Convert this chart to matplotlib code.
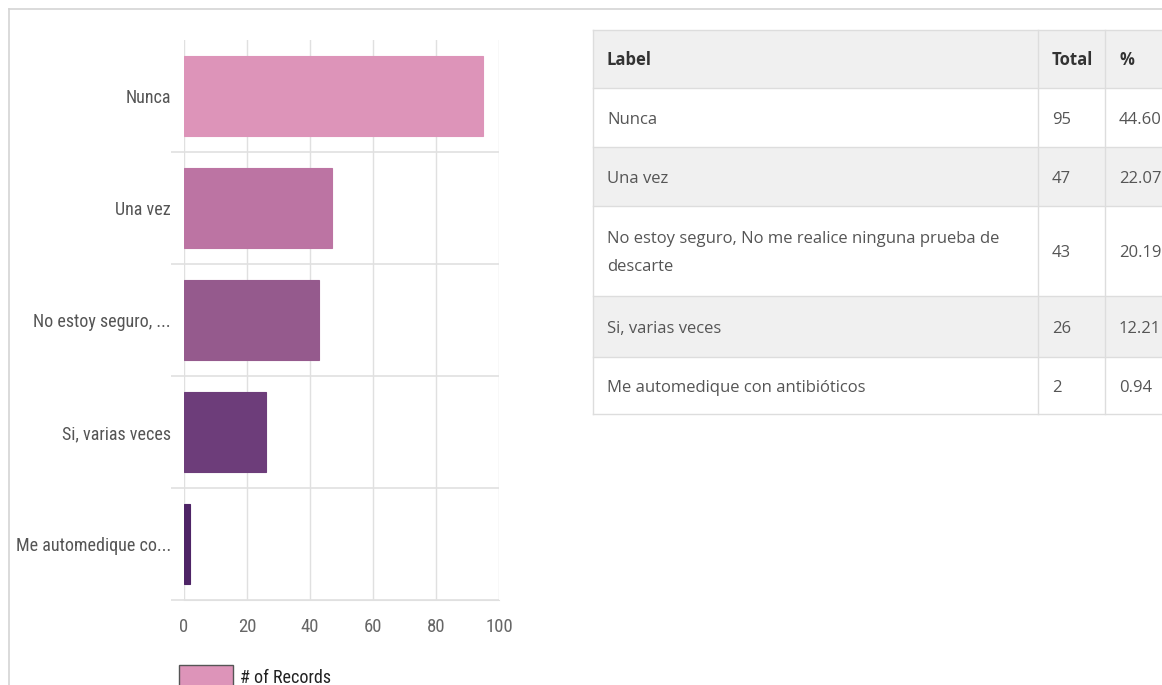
"""Horizontal bar chart of responses with a summary table beside it."""

import matplotlib.pyplot as plt
from matplotlib import font_manager
from matplotlib.patches import Rectangle

# data
short_labels = ["Nunca", "Una vez", "No estoy seguro, ...", "Si, varias veces", "Me automedique co..."]
full_labels = [
    "Nunca",
    "Una vez",
    "No estoy seguro, No me realice ninguna prueba de\ndescarte",
    "Si, varias veces",
    "Me automedique con antibióticos",
]
totals = [95, 47, 43, 26, 2]
percents = ["44.60", "22.07", "20.19", "12.21", "0.94"]
bar_colors = ["#dd94b9", "#bc74a3", "#955a8d", "#6d3d7a", "#4e2466"]
x_ticks = [0, 20, 40, 60, 80, 100]

W, H = 1162, 685
installed = {f.name for f in font_manager.fontManager.ttflist}
NARROW = [f for f in ["Roboto Condensed", "Liberation Sans Narrow", "Roboto"] if f in installed] + ["DejaVu Sans"]
TABLE_FONT = ["Open Sans", "DejaVu Sans"]

fig = plt.figure(figsize=(W / 100, H / 100), dpi=100)


def px_rect(x0, y0, x1, y1):
    return [x0 / W, 1 - y1 / H, (x1 - x0) / W, (y1 - y0) / H]


# overlay in pixel coordinates for frame, legend and table
ov = fig.add_axes([0, 0, 1, 1])
ov.set_xlim(0, W)
ov.set_ylim(H, 0)
ov.axis("off")
ov.plot([9, W], [9, 9], color="#d4d4d4", lw=1.2)
ov.plot([9, 9], [9, H], color="#d4d4d4", lw=1.2)

# bar chart
ax = fig.add_axes(px_rect(184, 40, 499, 600))
n = len(totals)
ypos = list(range(n))
ax.barh(ypos, totals, height=0.71, color=bar_colors, edgecolor=bar_colors, linewidth=0.8)
ax.set_ylim(n - 0.5, -0.5)
ax.set_xlim(0, 100)
ax.set_xticks(x_ticks)
ax.set_xticklabels([str(t) for t in x_ticks], family=NARROW, fontsize=13.5, color="#666666")
ax.set_yticks([y + 0.5 for y in ypos], minor=False)
ax.set_yticklabels([])
ax.set_yticks(ypos, minor=True)
ax.set_yticklabels(short_labels, minor=True, family=NARROW, fontsize=13, color="#555555")
ax.tick_params(axis="y", which="major", length=9.5, color="#e0e0e0", width=1.2)
ax.tick_params(axis="y", which="minor", length=0, pad=9.5)
ax.tick_params(axis="x", length=0, pad=13)
ax.grid(axis="x", color="#e0e0e0", lw=1.0)
ax.grid(axis="y", which="major", color="#e0e0e0", lw=1.2)
ax.set_axisbelow(True)
for side in ("top", "right", "left"):
    ax.spines[side].set_visible(False)
ax.spines["bottom"].set_color("#e0e0e0")

# legend
ov.add_patch(Rectangle((179, 665), 54, 28, facecolor=bar_colors[0], edgecolor="#555555", lw=1.0))
ov.text(240, 678, "# of Records", family=NARROW, fontsize=13, color="#222222", va="center", ha="left")

# table
col_x = [593, 1038, 1105, 1175]
row_y = [30, 88, 147, 206, 296, 357, 414]
header = ["Label", "Total", "%"]
row_fill = ["#f0f0f0", "#ffffff", "#f0f0f0", "#ffffff", "#f0f0f0", "#ffffff"]
grid_c = "#dddddd"

for r in range(len(row_y) - 1):
    ov.add_patch(Rectangle((col_x[0], row_y[r]), col_x[-1] - col_x[0], row_y[r + 1] - row_y[r],
                           facecolor=row_fill[r], edgecolor="none"))
for y in row_y:
    ov.plot([col_x[0], col_x[-1]], [y, y], color=grid_c, lw=1.0)
for x in col_x:
    ov.plot([x, x], [row_y[0], row_y[-1]], color=grid_c, lw=1.0)

for c, txt in enumerate(header):
    ov.text(col_x[c] + 14, (row_y[0] + row_y[1]) / 2 + 1, txt, family=TABLE_FONT, fontsize=12,
            fontweight="bold", color="#333333", va="center", ha="left")

for r in range(n):
    yc = (row_y[r + 1] + row_y[r + 2]) / 2 + 2
    cells = [full_labels[r], str(totals[r]), percents[r]]
    for c, txt in enumerate(cells):
        ov.text(col_x[c] + 14, yc, txt, family=TABLE_FONT, fontsize=12, color="#555555",
                va="center", ha="left", linespacing=2.0)

fig.savefig("out.png", dpi=100)
